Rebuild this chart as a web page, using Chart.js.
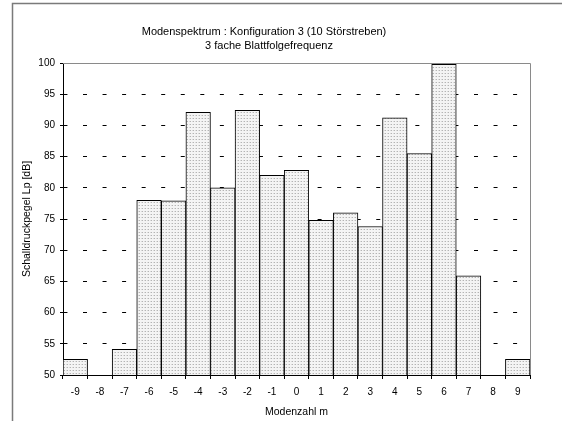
<!DOCTYPE html>
<html>
<head>
<meta charset="utf-8">
<script src="https://cdn.jsdelivr.net/npm/chart.js@4/dist/chart.umd.min.js"></script>
<style>
  html, body { margin: 0; padding: 0; background: #fff; }
  canvas { display: block; }
</style>
</head>
<body>
<canvas id="c" width="562" height="421"></canvas>
<script>
// ---- data ----
const modes = ['-9','-8','-7','-6','-5','-4','-3','-2','-1','0','1','2','3','4','5','6','7','8','9'];
const levels = [52.5, null, 54.1, 78.0, 77.9, 92.1, 80.0, 92.4, 82.0, 82.8, 74.8, 76.0, 73.8, 91.2, 85.5, 99.8, 65.9, null, 52.5];
const titleLines = ['Modenspektrum : Konfiguration 3 (10 Störstreben)', '3 fache Blattfolgefrequenz'];
const xTitle = 'Modenzahl m';
const yTitle = 'Schalldruckpegel Lp [dB]';
const yMin = 50, yMax = 100, yStep = 5;

const FONT = '"Liberation Sans", Arial, sans-serif';

// dotted fill pattern
function makePattern() {
  const p = document.createElement('canvas');
  p.width = 3; p.height = 3;
  const g = p.getContext('2d');
  g.fillStyle = '#f4f4f4';
  g.fillRect(0, 0, 3, 3);
  g.fillStyle = '#b4b4b4';
  g.fillRect(1, 1, 1, 1);
  g.fillStyle = '#dadada';
  g.fillRect(0, 1, 1, 1);
  return document.getElementById('c').getContext('2d').createPattern(p, 'repeat');
}

const annot = {
  id: 'annot',
  afterDraw(chart) {
    const ctx = chart.ctx;
    const a = chart.chartArea;
    ctx.save();
    // outer frame
    ctx.strokeStyle = '#7a7a7a';
    ctx.lineWidth = 1.5;
    ctx.beginPath();
    ctx.moveTo(12.5, 421);
    ctx.lineTo(12.5, 3.5);
    ctx.lineTo(562, 3.5);
    ctx.stroke();
    // plot border top / right
    ctx.strokeStyle = '#8a8a8a';
    ctx.lineWidth = 1;
    ctx.beginPath();
    ctx.moveTo(a.left, a.top + 0.5);
    ctx.lineTo(a.right + 0.5, a.top + 0.5);
    ctx.lineTo(a.right + 0.5, a.bottom);
    ctx.stroke();
    // texts
    ctx.fillStyle = '#000';
    ctx.textAlign = 'center';
    ctx.textBaseline = 'middle';
    ctx.font = '11px ' + FONT;
    ctx.fillText(titleLines[0], 264, 32);
    ctx.fillText(titleLines[1], 269, 46);
    ctx.font = '10.5px ' + FONT;
    ctx.fillText(xTitle, (a.left + a.right) / 2, 412);
    ctx.translate(27, (a.top + a.bottom) / 2);
    ctx.rotate(-Math.PI / 2);
    ctx.fillText(yTitle, 0, 0);
    ctx.restore();
  }
};

new Chart(document.getElementById('c'), {
  type: 'bar',
  data: {
    labels: modes,
    datasets: [{
      data: levels,
      backgroundColor: makePattern(),
      borderColor: '#000',
      borderWidth: 1,
      borderSkipped: 'bottom',
      categoryPercentage: 1.0,
      barPercentage: 1.0
    }]
  },
  options: {
    responsive: false,
    animation: false,
    devicePixelRatio: 1,
    layout: { padding: { left: 0, right: 32, top: 63, bottom: 0 } },
    plugins: { legend: { display: false }, tooltip: { enabled: false }, title: { display: false } },
    scales: {
      x: {
        offset: true,
        grid: { offset: true, drawOnChartArea: false, color: '#000', tickColor: '#000', tickLength: 4, lineWidth: 1 },
        border: { color: '#000', width: 1 },
        ticks: { color: '#000', font: { family: FONT, size: 10 }, padding: 7, maxRotation: 0, autoSkip: false },
        afterFit(scale) { scale.height = 46; }
      },
      y: {
        min: yMin, max: yMax,
        grid: {
          color: (c) => (c.tick && (c.tick.value === yMin || c.tick.value === yMax)) ? 'rgba(0,0,0,0)' : '#000',
          tickColor: '#000',
          tickLength: 3,
          lineWidth: 1,
          tickBorderDash: []
        },
        border: { color: '#000', width: 1, dash: [4, 15.55], dashOffset: 0.55 },
        ticks: { stepSize: yStep, color: '#000', font: { family: FONT, size: 10 }, padding: 5 },
        afterFit(scale) { scale.width = 63; }
      }
    }
  },
  plugins: [annot]
});
</script>
</body>
</html>
